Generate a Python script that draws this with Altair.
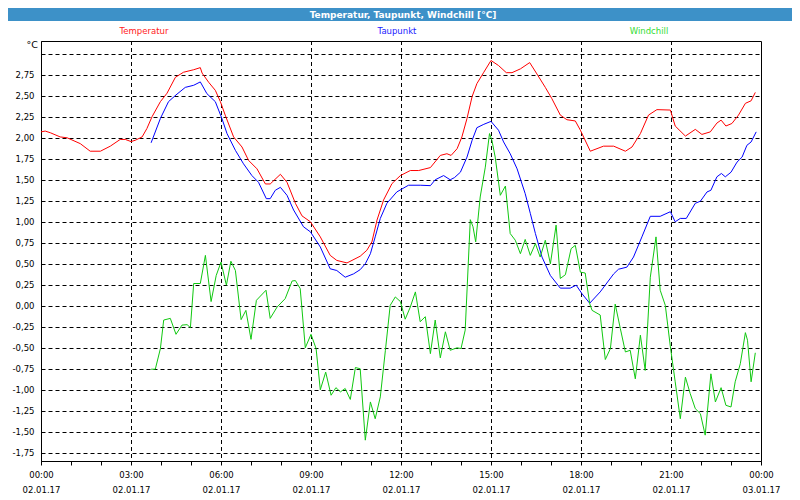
import altair as alt
import pandas as pd

title_text = "Temperatur, Taupunkt, Windchill [°C]"
unit_text = "°C"
series_names = ["Temperatur", "Taupunkt", "Windchill"]
series_colors = ["#ff0000", "#0000ff", "#10c810"]
legend_colors = ["#ff1a1a", "#1a1aff", "#33dd33"]

temp_hours = [0.0, 0.14, 0.31, 0.64, 0.87, 1.31, 1.64, 1.98, 2.31, 2.64, 2.81, 3.0, 3.14, 3.37, 3.53, 3.7,
              3.98, 4.2, 4.48, 4.75, 5.09, 5.31, 5.37, 5.59, 5.81, 5.98, 6.14, 6.42, 6.7, 6.92, 7.2, 7.48,
              7.64, 7.98, 8.2, 8.48, 8.7, 8.98, 9.31, 9.64, 9.86, 10.2, 10.64, 10.86, 11.03, 11.2, 11.42,
              11.7, 11.98, 12.31, 12.59, 12.98, 13.31, 13.53, 13.67, 13.87, 14.03, 14.2, 14.37, 14.53,
              14.76, 15.0, 15.25, 15.51, 15.7, 15.98, 16.29, 16.53, 16.81, 17.03, 17.31, 17.53, 17.81,
              17.98, 18.31, 18.75, 19.09, 19.48, 19.7, 19.98, 20.25, 20.53, 20.98, 21.14, 21.48, 21.81,
              22.03, 22.31, 22.53, 22.67, 22.83, 23.03, 23.25, 23.48, 23.67, 23.81]
temp_values = [2.07, 2.08, 2.06, 2.01, 2.00, 1.93, 1.84, 1.84, 1.90, 1.98, 1.98, 1.955, 1.97, 2.01, 2.11, 2.25,
               2.43, 2.53, 2.72, 2.78, 2.81, 2.835, 2.77, 2.66, 2.565, 2.43, 2.27, 2.01, 1.89, 1.73, 1.63, 1.45,
               1.45, 1.565, 1.47, 1.22, 1.07, 1.0, 0.82, 0.60, 0.54, 0.51, 0.59, 0.66, 0.76, 1.02, 1.26,
               1.455, 1.55, 1.61, 1.61, 1.645, 1.79, 1.81, 1.79, 1.87, 2.01, 2.23, 2.49, 2.645,
               2.78, 2.92, 2.86, 2.775, 2.775, 2.82, 2.895, 2.76, 2.60, 2.465, 2.27, 2.215, 2.20,
               2.09, 1.84, 1.90, 1.90, 1.84, 1.89, 2.05, 2.27, 2.335, 2.33, 2.14, 2.02, 2.10,
               2.04, 2.07, 2.175, 2.21, 2.14, 2.17, 2.27, 2.41, 2.44, 2.54]

dew_hours = [3.67, 3.98, 4.25, 4.5, 4.81, 5.09, 5.31, 5.53, 5.81, 6.03, 6.2, 6.48, 6.75, 7.03, 7.25, 7.51,
             7.64, 7.81, 7.98, 8.2, 8.42, 8.75, 8.98, 9.31, 9.64, 9.86, 10.14, 10.42, 10.64, 10.81, 10.98,
             11.14, 11.31, 11.53, 11.86, 12.25, 12.64, 12.98, 13.14, 13.42, 13.64, 13.78, 13.98, 14.2,
             14.37, 14.53, 14.76, 15.0, 15.25, 15.42, 15.64, 15.87, 16.14, 16.31, 16.48, 16.7, 16.98,
             17.31, 17.64, 17.84, 18.03, 18.29, 18.64, 19.09, 19.25, 19.53, 19.75, 20.03, 20.31, 20.64,
             20.98, 21.14, 21.31, 21.51, 21.81, 21.98, 22.2, 22.33, 22.53, 22.68, 22.81, 23.0, 23.2,
             23.37, 23.53, 23.67, 23.84]
dew_values = [1.94, 2.23, 2.43, 2.51, 2.60, 2.625, 2.665, 2.525, 2.43, 2.23, 2.05, 1.85, 1.69, 1.55, 1.47, 1.275,
              1.275, 1.375, 1.41, 1.315, 1.14, 0.94, 0.88, 0.70, 0.44, 0.42, 0.34, 0.38, 0.43, 0.50, 0.62,
              0.82, 1.04, 1.22, 1.355, 1.435, 1.435, 1.43, 1.50, 1.55, 1.50, 1.525, 1.59, 1.77,
              1.97, 2.12, 2.16, 2.195, 2.09, 1.95, 1.81, 1.63, 1.335, 1.10, 0.86, 0.58, 0.36,
              0.21, 0.21, 0.245, 0.145, 0.03, 0.165, 0.38, 0.435, 0.46, 0.58, 0.82, 1.065, 1.065,
              1.12, 1.0, 1.04, 1.04, 1.22, 1.245, 1.355, 1.375, 1.535, 1.575, 1.535, 1.59, 1.71,
              1.77, 1.91, 1.95, 2.07]

wc_hours = [3.67, 3.81, 3.98, 4.09, 4.31, 4.5, 4.7, 4.87, 4.98, 5.09, 5.31, 5.48, 5.67, 5.84, 6.0, 6.18,
            6.33, 6.48, 6.67, 6.83, 7.0, 7.18, 7.5, 7.64, 7.87, 8.14, 8.37, 8.48, 8.64, 8.81, 9.0, 9.17,
            9.31, 9.49, 9.67, 9.83, 9.98, 10.14, 10.31, 10.48, 10.64, 10.81, 10.98, 11.14, 11.31, 11.48,
            11.64, 11.81, 11.98, 12.14, 12.31, 12.48, 12.64, 12.81, 12.98, 13.14, 13.31, 13.48, 13.64,
            13.87, 14.0, 14.14, 14.31, 14.4, 14.49, 14.64, 14.81, 14.95, 15.03, 15.14, 15.31, 15.48,
            15.64, 15.81, 15.98, 16.14, 16.31, 16.48, 16.64, 16.81, 16.98, 17.17, 17.31, 17.48, 17.67,
            17.81, 17.98, 18.14, 18.29, 18.37, 18.64, 18.81, 18.98, 19.14, 19.31, 19.48, 19.64, 19.81,
            19.98, 20.14, 20.31, 20.5, 20.64, 20.81, 20.98, 21.14, 21.31, 21.48, 21.64, 21.81, 21.98,
            22.14, 22.33, 22.48, 22.67, 22.83, 23.0, 23.14, 23.31, 23.48, 23.55, 23.67, 23.81]
wc_values = [-0.755, -0.755, -0.51, -0.17, -0.15, -0.34, -0.23, -0.225, -0.26, 0.265, 0.265, 0.60, 0.05, 0.36, 0.52, 0.245,
             0.53, 0.42, -0.165, -0.055, -0.40, 0.065, 0.185, -0.15, -0.015, 0.085, 0.295, 0.30, 0.205, -0.50, -0.34, -0.51,
             -1.0, -0.79, -1.065, -0.975, -1.025, -0.985, -1.115, -0.735, -0.75, -1.60, -1.145, -1.345, -1.085, -0.53,
             0.005, 0.105, 0.05, -0.16, -0.015, 0.165, -0.19, -0.13, -0.57, -0.17, -0.62, -0.31, -0.53,
             -0.50, -0.51, -0.29, 1.025, 0.94, 0.76, 1.295, 1.65, 2.05, 1.97, 1.77, 1.315, 1.425,
             0.86, 0.78, 0.62, 0.79, 0.60, 0.74, 0.58, 0.78, 0.50, 0.96, 0.325, 0.37, 0.68,
             0.72, 0.40, 0.39, 0.025, -0.055, -0.11, -0.64, -0.51, 0.02, -0.27, -0.55, -0.53, -0.87,
             -0.35, -0.77, 0.34, 0.82, 0.185, 0.005, -0.49, -0.905, -1.345, -0.85, -1.045, -1.225, -1.285,
             -1.54, -0.81, -1.145, -0.975, -1.185, -1.205, -0.905, -0.69, -0.32, -0.41, -0.905, -0.56]

y_ticks = [-1.75, -1.5, -1.25, -1.0, -0.75, -0.5, -0.25, 0.0, 0.25, 0.5, 0.75, 1.0, 1.25, 1.5,
           1.75, 2.0, 2.25, 2.5, 2.75, 3.0]
x_ticks = [0, 1, 2, 3, 4, 5, 6, 7, 8, 9, 10, 11, 12, 13, 14, 15, 16, 17, 18, 19, 20, 21, 22, 23, 24]
x_grid_hours = [3, 6, 9, 12, 15, 18, 21]
x_tick_times = ["00:00", "03:00", "06:00", "09:00", "12:00", "15:00", "18:00", "21:00", "00:00"]
x_tick_dates = ["02.01.17", "02.01.17", "02.01.17", "02.01.17", "02.01.17", "02.01.17", "02.01.17",
                "02.01.17", "03.01.17"]

FONT = "DejaVu Sans"

rows = []
for name, hs, vs in zip(series_names, [temp_hours, dew_hours, wc_hours], [temp_values, dew_values, wc_values]):
    for h, v in zip(hs, vs):
        rows.append({"hour": h, "value": v, "series": name})
df = pd.DataFrame(rows)

xs = alt.Scale(domain=[0, 24], nice=False, zero=False)
ys = alt.Scale(domain=[-1.848, 3.152], nice=False, zero=False)

times_js = "[" + ",".join("'%s'" % t for t in x_tick_times) + "]"
dates_js = "[" + ",".join("'%s'" % d for d in x_tick_dates) + "]"
x_label_expr = ("datum.value % 3 == 0 ? [" + times_js + "[round(datum.value / 3)], "
                + dates_js + "[round(datum.value / 3)]] : ''")
y_label_expr = ("datum.value > 2.9 ? '' : replace(replace(format(datum.value, '.2f'), '.', ','), '\u2212', '-')")

x_axis = alt.Axis(values=x_ticks, title=None, grid=False, tickSize=4, tickColor="black",
                  domainColor="black", labelExpr=x_label_expr, labelFont=FONT, labelFontSize=8.5,
                  labelColor="black", labelPadding=5, labelLineHeight=15, labelFlush=False,
                  labelOverlap=False, labelBound=False, labelSeparation=0)
y_axis = alt.Axis(values=y_ticks, title=None, grid=True, gridColor="black", gridDash=[4, 3],
                  gridWidth=1, gridOpacity=1, ticks=False, tickSize=0, domainColor="black",
                  labelExpr=y_label_expr, labelFont=FONT, labelFontSize=8.5, labelColor="black",
                  labelPadding=7, labelOverlap=False, labelFlush=False)

lines = alt.Chart(df).mark_line(strokeWidth=1).encode(
    x=alt.X("hour:Q", scale=xs, axis=x_axis),
    y=alt.Y("value:Q", scale=ys, axis=y_axis),
    color=alt.Color("series:N", scale=alt.Scale(domain=series_names, range=series_colors), legend=None),
    order=alt.Order("hour:Q"),
)

vgrid = alt.Chart(pd.DataFrame({"hour": x_grid_hours})).mark_rule(
    color="black", strokeWidth=1, strokeDash=[4, 3], xOffset=0.5
).encode(x=alt.X("hour:Q", scale=xs, axis=x_axis))

one = pd.DataFrame({"t": [title_text]})
bar = alt.Chart(one).mark_rect(color="#3d91c8").encode(
    x=alt.value(-33), x2=alt.value(751), y=alt.value(-33), y2=alt.value(-20))
title = alt.Chart(one).mark_text(font=FONT, fontSize=9, fontWeight="bold", color="white",
                                 align="center", baseline="middle").encode(
    x=alt.value(362), y=alt.value(-26.5), text="t:N")
unit = alt.Chart(pd.DataFrame({"t": [unit_text]})).mark_text(
    font=FONT, fontSize=9.5, color="black", align="right", baseline="middle").encode(
    x=alt.value(-3), y=alt.value(4), text="t:N")

legend_x = [103, 356, 608]
legend_layers = []
for name, col, lx in zip(series_names, legend_colors, legend_x):
    legend_layers.append(
        alt.Chart(pd.DataFrame({"t": [name]})).mark_text(
            font=FONT, fontSize=8.5, color=col, align="center", baseline="middle").encode(
            x=alt.value(lx), y=alt.value(-10.5), text="t:N"))

chart = alt.layer(vgrid, lines, bar, title, unit, *legend_layers).properties(
    width=720, height=420,
    autosize=alt.AutoSizeParams(type="none"),
    padding={"left": 33, "top": 33, "right": 31, "bottom": 42},
    background="white",
).configure_view(stroke="black", strokeWidth=1)

chart.save("out.html", embed_options={"renderer": "svg", "actions": False})
